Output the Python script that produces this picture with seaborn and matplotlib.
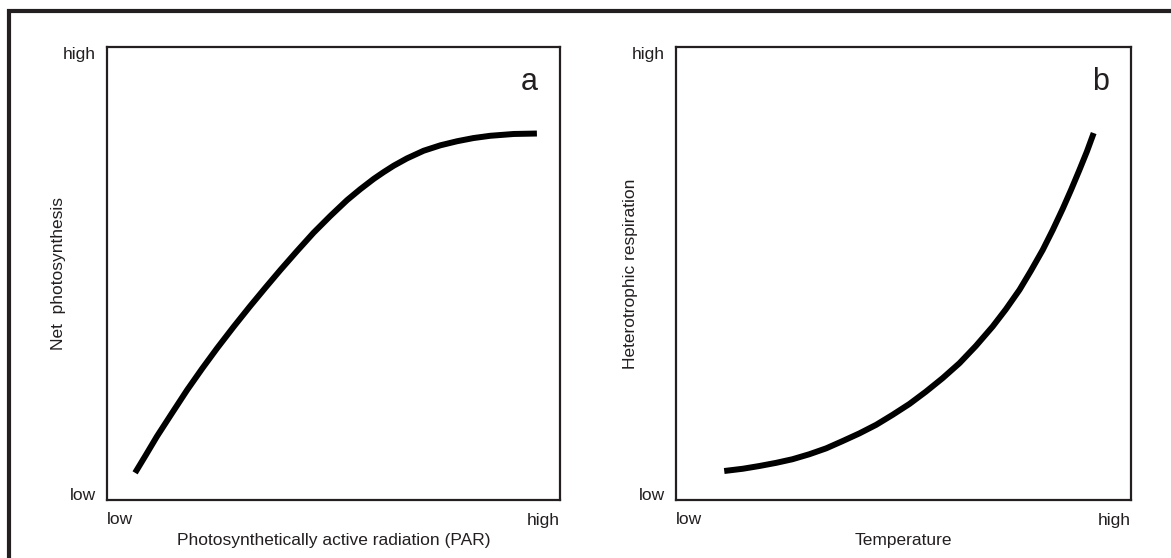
import matplotlib
matplotlib.use("Agg")
import matplotlib.pyplot as plt
from matplotlib.patches import Rectangle
import seaborn as sns

# panel a: net photosynthesis vs PAR (relative units)
par = [0.062, 0.085, 0.110, 0.143, 0.177, 0.210, 0.243, 0.280, 0.316,
       0.350, 0.383, 0.419, 0.456, 0.493, 0.530, 0.559, 0.589, 0.611,
       0.633, 0.662, 0.699, 0.736, 0.773, 0.809, 0.846, 0.898, 0.949]
photo = [0.060, 0.098, 0.140, 0.191, 0.243, 0.290, 0.335, 0.383, 0.428,
         0.469, 0.508, 0.549, 0.590, 0.627, 0.662, 0.686, 0.709, 0.724,
         0.738, 0.754, 0.771, 0.783, 0.792, 0.799, 0.804, 0.808, 0.809]

# panel b: heterotrophic respiration vs temperature
temp = [0.106, 0.147, 0.183, 0.220, 0.256, 0.293, 0.330, 0.366, 0.403,
        0.440, 0.476, 0.513, 0.549, 0.586, 0.623, 0.659, 0.696, 0.725,
        0.755, 0.780, 0.806, 0.828, 0.850, 0.868, 0.886, 0.903, 0.918]
resp = [0.064, 0.069, 0.075, 0.082, 0.090, 0.101, 0.114, 0.130, 0.147,
        0.166, 0.188, 0.212, 0.239, 0.269, 0.302, 0.340, 0.383, 0.421,
        0.464, 0.506, 0.552, 0.596, 0.643, 0.684, 0.727, 0.769, 0.810]

tick_labels = ["low", "high"]
panel_letters = ["a", "b"]
xlabels = ["Photosynthetically active radiation (PAR)", "Temperature"]
ylabels = ["Net  photosynthesis", "Heterotrophic respiration"]

sns.set_theme(style="white")
plt.rcParams["font.family"] = ["Liberation Sans", "DejaVu Sans"]
dark = "#231f20"

fig = plt.figure(figsize=(11.71, 5.58), dpi=100)
ax1 = fig.add_axes([107 / 1171, 58 / 558, 453 / 1171, 453 / 558])
ax2 = fig.add_axes([676 / 1171, 58 / 558, 455 / 1171, 453 / 558])

sns.lineplot(x=par, y=photo, ax=ax1, color="black", lw=4.3, sort=False,
             solid_joinstyle="round", solid_capstyle="butt")
sns.lineplot(x=temp, y=resp, ax=ax2, color="black", lw=4.3, sort=False,
             solid_joinstyle="round", solid_capstyle="butt")

ylabel_x = [-0.0905, -0.0835]
for ax, letter, xl, yl, lx in zip([ax1, ax2], panel_letters, xlabels, ylabels, ylabel_x):
    ax.set_xlim(0, 1)
    ax.set_ylim(0, 1)
    for s in ax.spines.values():
        s.set_color(dark)
        s.set_linewidth(1.6)
    ax.set_xticks([0, 1])
    ax.set_xticklabels(tick_labels, fontsize=12.5, color=dark)
    ax.xaxis.get_majorticklabels()[0].set_ha("left")
    ax.xaxis.get_majorticklabels()[1].set_ha("right")
    ax.set_yticks([0.013, 0.987])
    ax.set_yticklabels(tick_labels, fontsize=12.5, color=dark)
    ax.tick_params(axis="x", length=0, pad=9)
    ax.tick_params(axis="y", length=0, pad=8)
    ax.set_xlabel(xl, fontsize=12.5, color=dark, labelpad=4)
    ax.set_ylabel(yl, fontsize=12.5, color=dark)
    ax.yaxis.set_label_coords(lx, 0.5)
    ax.text(0.933, 0.923, letter, transform=ax.transAxes, fontsize=22,
            ha="center", va="center", color=dark)

# outer frame (only left and top edges fall inside the image)
fig.add_artist(Rectangle((9 / 1171, -0.1), 1.2, 1.081, transform=fig.transFigure,
                         fill=False, lw=3, ec=dark))

fig.savefig("out.png", dpi=100)
